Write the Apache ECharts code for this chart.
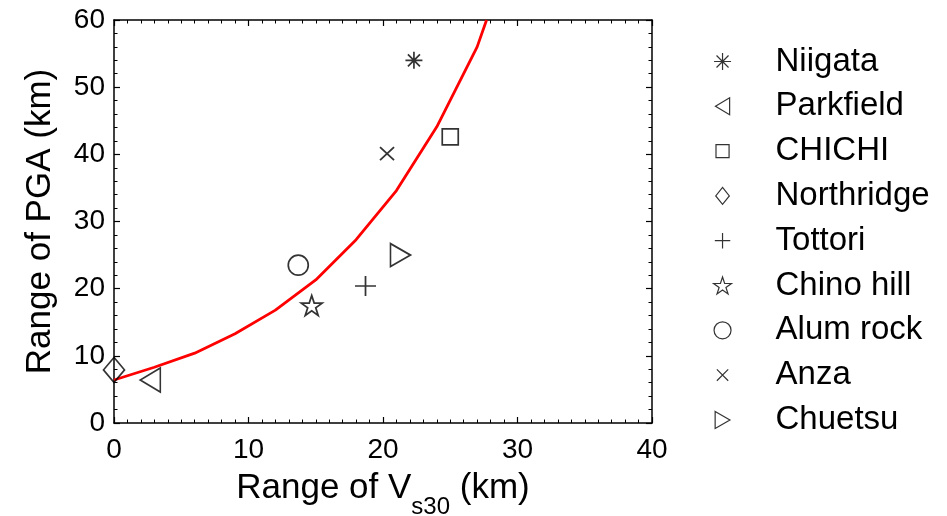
<!DOCTYPE html>
<html>
<head>
<meta charset="utf-8">
<script src="https://cdn.jsdelivr.net/npm/echarts@6/dist/echarts.min.js"></script>
<style>
html,body{margin:0;padding:0;background:#fff;}
#chart{width:947px;height:516px;}
</style>
</head>
<body>
<div id="chart"></div>
<script>
// ---- data ----
const seriesNames = ['Niigata','Parkfield','CHICHI','Northridge','Tottori','Chino hill','Alum rock','Anza','Chuetsu'];
const vs30Range = [22.3, 2.7, 25.0, 0.0, 18.7, 14.7, 13.7, 20.3, 21.3];
const pgaRange  = [54.0, 6.4, 42.6, 7.9, 20.4, 17.5, 23.5, 40.1, 25.0];
const fitX = [0, 3, 6, 9, 12, 15, 18, 21, 24, 27, 27.7];
const fitY = [6.4, 8.3, 10.4, 13.3, 16.8, 21.3, 27.3, 34.6, 44.1, 56.0, 60.0];
const xAxisMin = 0, xAxisMax = 40, xAxisStep = 10;
const yAxisMin = 0, yAxisMax = 60, yAxisStep = 10;

// ---- styles ----
const FONT = 'Liberation Sans, Arial, Helvetica, sans-serif';
const star = 'path://M10,0L12.245,6.91L19.511,6.91L13.633,11.18L15.878,18.09L10,13.82L4.122,18.09L6.367,11.18L0.489,6.91L7.755,6.91Z';
const symbols = [
  'path://M10,0L10,20M0,10L20,10M2.93,2.93L17.07,17.07M2.93,17.07L17.07,2.93',
  'path://M0,12L20,0L20,24Z',
  'path://M0,0L20,0L20,20L0,20Z',
  'path://M10,0L20,12.5L10,25L0,12.5Z',
  'path://M10,0L10,20M0,10L20,10',
  star,
  'circle',
  'path://M0,0L20,20M0,20L20,0',
  'path://M0,0L20,11.5L0,23Z'
];
const sizes = [[17,17],[20,24],[16,16],[21,25],[21,20],[21,20],20,[14,13],[20,23]];
const legendIcons = [
  symbols[0],
  'path://M0,12L20,0L20,24Z',
  'path://M-3,-3M23,23M0,0L20,0L20,20L0,20Z',
  symbols[3],
  'path://M-1,-1M21,21M10,0L10,20M0,10L20,10',
  star,
  'circle',
  'path://M-5,-5M25,25M0,0L20,20M0,20L20,0',
  'path://M0,0L20,11.5L0,23Z'
];

const scatterSeries = seriesNames.map((n, i) => ({
  type: 'scatter',
  name: n,
  symbol: symbols[i],
  symbolSize: sizes[i],
  data: [[vs30Range[i], pgaRange[i]]],
  itemStyle: { color: 'rgba(0,0,0,0)', borderColor: '#000', borderWidth: 1.7 },
  emphasis: { disabled: true },
  z: 3
}));

const axisLineStyle = { show: true, onZero: false, lineStyle: { color: '#000', width: 1.5 } };
const tickStyle = { show: true, inside: true, length: 6, lineStyle: { color: '#000', width: 1.2 } };

const chart = echarts.init(document.getElementById('chart'), null, { renderer: 'canvas' });
chart.setOption({
  animation: false,
  backgroundColor: '#fff',
  grid: { left: 114, top: 20, width: 538, height: 403, containLabel: false, outerBoundsMode: 'none' },
  xAxis: [
    {
      type: 'value', min: xAxisMin, max: xAxisMax, interval: xAxisStep, position: 'bottom',
      axisLine: axisLineStyle, axisTick: tickStyle,
      minorTick: { show: true, splitNumber: 10, length: 3.5, lineStyle: { color: '#000', width: 1 } },
      splitLine: { show: false },
      axisLabel: { fontSize: 28, color: '#000', fontFamily: FONT, margin: 13 },
      name: '{a|Range of V}{s|s30}{a| (km)}',
      nameLocation: 'middle', nameGap: 48,
      nameTextStyle: {
        rich: {
          a: { fontSize: 35, lineHeight: 38, color: '#000', fontFamily: FONT, verticalAlign: 'top' },
          s: { fontSize: 24, lineHeight: 24, color: '#000', fontFamily: FONT, padding: [24, 0, 0, 0], verticalAlign: 'top' }
        }
      }
    },
    {
      type: 'value', min: xAxisMin, max: xAxisMax, interval: xAxisStep, position: 'top',
      axisLine: axisLineStyle, axisTick: tickStyle,
      minorTick: { show: true, splitNumber: 10, length: 3.5, lineStyle: { color: '#000', width: 1 } },
      splitLine: { show: false }, axisLabel: { show: false }
    }
  ],
  yAxis: [
    {
      type: 'value', min: yAxisMin, max: yAxisMax, interval: yAxisStep, position: 'left',
      axisLine: axisLineStyle, axisTick: tickStyle,
      minorTick: { show: true, splitNumber: 5, length: 3.5, lineStyle: { color: '#000', width: 1 } },
      splitLine: { show: false },
      axisLabel: { fontSize: 28, color: '#000', fontFamily: FONT, margin: 9, padding: [6, 0, 0, 0] },
      name: 'Range of PGA (km)', nameLocation: 'middle', nameGap: 56,
      nameTextStyle: { fontSize: 35, color: '#000', fontFamily: FONT }
    },
    {
      type: 'value', min: yAxisMin, max: yAxisMax, interval: yAxisStep, position: 'right',
      axisLine: axisLineStyle, axisTick: tickStyle,
      minorTick: { show: true, splitNumber: 5, length: 3.5, lineStyle: { color: '#000', width: 1 } },
      splitLine: { show: false }, axisLabel: { show: false }
    }
  ],
  legend: {
    orient: 'vertical', left: 713, top: 45, padding: 0,
    itemWidth: 18, itemHeight: 17, itemGap: 11.8,
    selectedMode: false,
    textStyle: { fontSize: 33, lineHeight: 32, color: '#000', fontFamily: FONT, padding: [0, 0, 0, 39] },
    itemStyle: { borderWidth: 1.2 },
    data: seriesNames.map((n, i) => ({ name: n, icon: legendIcons[i] }))
  },
  series: [
    {
      type: 'line', name: 'fit',
      data: fitX.map((x, i) => [x, fitY[i]]),
      showSymbol: false, symbol: 'none',
      lineStyle: { color: '#ff0000', width: 2.8 },
      itemStyle: { color: '#ff0000' },
      emphasis: { disabled: true },
      z: 2
    },
    ...scatterSeries
  ]
});
</script>
</body>
</html>
